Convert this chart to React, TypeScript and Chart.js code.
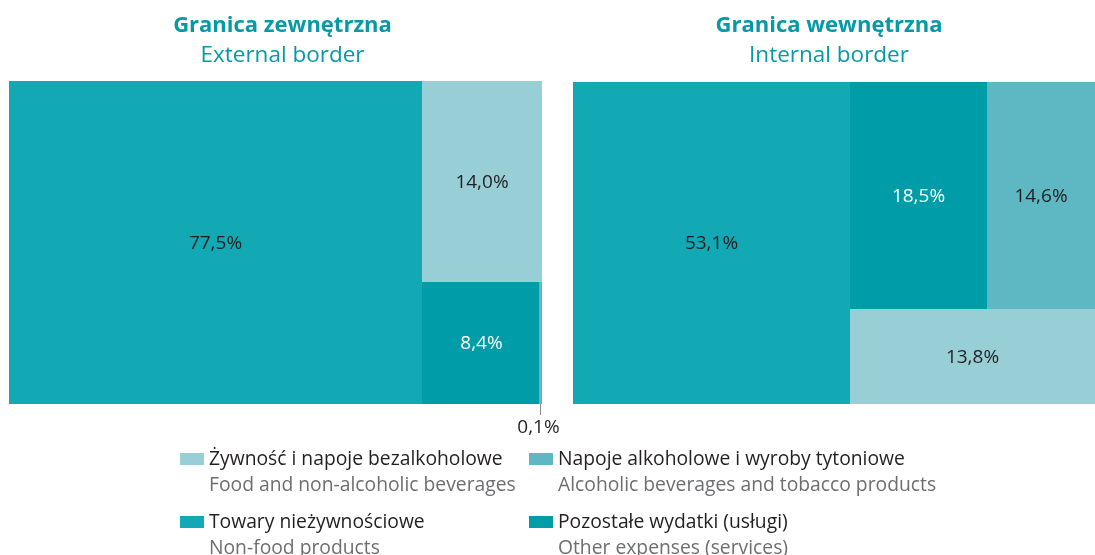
import React, { useEffect, useRef } from "react";
import { Chart, registerables } from "chart.js";

Chart.register(...registerables);

// ---------- data ----------
const CATEGORIES_PL = [
  "Żywność i napoje bezalkoholowe",
  "Napoje alkoholowe i wyroby tytoniowe",
  "Towary nieżywnościowe",
  "Pozostałe wydatki (usługi)",
];
const CATEGORIES_EN = [
  "Food and non-alcoholic beverages",
  "Alcoholic beverages and tobacco products",
  "Non-food products",
  "Other expenses (services)",
];
const COLORS = ["#98cfd7", "#5db8c3", "#12a8b4", "#009ca7"];
const LABEL_COLORS = ["#231f20", "#231f20", "#231f20", "#ffffff"];

// shares (%) by category, same order as CATEGORIES
const EXTERNAL_VALUES = [14.0, 0.1, 77.5, 8.4];
const INTERNAL_VALUES = [13.8, 14.6, 53.1, 18.5];

// treemap grouping (category indices); levels alternate side-by-side / stacked
const EXTERNAL_TREE = [2, [0, [3, 1]]];
const INTERNAL_TREE = [2, [[3, 1], 0]];

const TITLES_PL = ["Granica zewnętrzna", "Granica wewnętrzna"];
const TITLES_EN = ["External border", "Internal border"];

// ---------- layout helpers ----------
type Node = number | Node[];
type Cell = { cat: number; value: number; x0: number; x1: number; y0: number; y1: number };

function sumNode(n: Node, values: number[]): number {
  return typeof n === "number" ? values[n] : n.reduce((s, c) => s + sumNode(c, values), 0);
}

function layoutNode(
  n: Node,
  values: number[],
  x0: number,
  x1: number,
  y0: number,
  y1: number,
  horizontal: boolean,
  out: Cell[]
) {
  if (typeof n === "number") {
    out.push({ cat: n, value: values[n], x0, x1, y0, y1 });
    return;
  }
  const total = sumNode(n, values);
  let acc = 0;
  for (const c of n) {
    const v = sumNode(c, values);
    const a = acc / total;
    const b = (acc + v) / total;
    if (horizontal) layoutNode(c, values, x0 + (x1 - x0) * a, x0 + (x1 - x0) * b, y0, y1, false, out);
    else layoutNode(c, values, x0, x1, y0 + (y1 - y0) * a, y0 + (y1 - y0) * b, true, out);
    acc += v;
  }
}

const FONT = '"Open Sans", "Noto Sans", sans-serif';
const fmt = (v: number) => v.toFixed(1).replace(".", ",") + "%";

type Panel = {
  values: number[];
  tree: Node;
  title: string;
  subtitle: string;
  titleDx: number;
  padding: { left: number; right: number; top: number; bottom: number };
  legend: boolean;
};

const PANELS: Panel[] = [
  {
    values: EXTERNAL_VALUES,
    tree: EXTERNAL_TREE,
    title: TITLES_PL[0],
    subtitle: TITLES_EN[0],
    titleDx: 7,
    padding: { left: 9, right: 553, top: 81, bottom: 151 },
    legend: true,
  },
  {
    values: INTERNAL_VALUES,
    tree: INTERNAL_TREE,
    title: TITLES_PL[1],
    subtitle: TITLES_EN[1],
    titleDx: -5,
    padding: { left: 573, right: 0, top: 82, bottom: 151 },
    legend: false,
  },
];

function makePlugin(panel: Panel) {
  return {
    id: "treemapPanel",
    afterDraw(chart: any) {
      const ctx: CanvasRenderingContext2D = chart.ctx;
      const xs = chart.scales.x;
      const ys = chart.scales.y;
      const area = chart.chartArea;
      const cells: Cell[] = [];
      layoutNode(panel.tree, panel.values, 0, 1, 0, 1, true, cells);
      ctx.save();
      const px = cells.map((c) => {
        let L = Math.round(xs.getPixelForValue(c.x0));
        const R = Math.round(xs.getPixelForValue(c.x1));
        const T = Math.round(ys.getPixelForValue(c.y0));
        const B = Math.round(ys.getPixelForValue(c.y1));
        if (R - L < 3) L = R - 3;
        return { c, L, R, T, B };
      });
      for (const p of px) {
        ctx.fillStyle = COLORS[p.c.cat];
        ctx.fillRect(p.L, p.T, p.R - p.L, p.B - p.T);
      }
      ctx.textAlign = "center";
      ctx.textBaseline = "middle";
      ctx.font = `19px ${FONT}`;
      for (const p of px) {
        const cx = (p.L + p.R) / 2;
        const cy = (p.T + p.B) / 2;
        if (p.R - p.L > 40) {
          ctx.fillStyle = LABEL_COLORS[p.c.cat];
          ctx.fillText(fmt(p.c.value), cx, cy + 1);
        } else {
          ctx.strokeStyle = "#8c8c8c";
          ctx.lineWidth = 1;
          ctx.beginPath();
          ctx.moveTo(Math.floor(cx) + 0.5, p.B);
          ctx.lineTo(Math.floor(cx) + 0.5, p.B + 11);
          ctx.stroke();
          ctx.fillStyle = "#231f20";
          ctx.textBaseline = "alphabetic";
          ctx.fillText(fmt(p.c.value), cx - 2, p.B + 29);
          ctx.textBaseline = "middle";
        }
      }
      // titles
      const tx = (area.left + area.right) / 2 + panel.titleDx;
      ctx.textBaseline = "alphabetic";
      ctx.fillStyle = "#0799a5";
      ctx.font = `bold 22px ${FONT}`;
      ctx.fillText(panel.title, tx, 32);
      ctx.font = `22.5px ${FONT}`;
      ctx.fillText(panel.subtitle, tx, 62);

      // legend
      if (panel.legend) {
        const colX = [180, 529];
        const rowY = [453, 516];
        ctx.textAlign = "left";
        for (let i = 0; i < CATEGORIES_PL.length; i++) {
          const x = colX[i % 2];
          const y = rowY[Math.floor(i / 2)];
          ctx.fillStyle = COLORS[i];
          ctx.fillRect(x, y, 24, 12);
          ctx.font = `19.3px ${FONT}`;
          ctx.fillStyle = "#231f20";
          ctx.fillText(CATEGORIES_PL[i], x + 29, y + 12);
          ctx.fillStyle = "#6d6e71";
          ctx.fillText(CATEGORIES_EN[i], x + 29, y + 38);
        }
      }
      ctx.restore();
    },
  };
}

function PanelChart({ panel }: { panel: Panel }) {
  const ref = useRef<HTMLCanvasElement | null>(null);
  useEffect(() => {
    if (!ref.current) return;
    const chart = new Chart(ref.current, {
      type: "scatter",
      data: { datasets: [] },
      options: {
        animation: false,
        responsive: false,
        devicePixelRatio: 1,
        layout: { padding: panel.padding },
        scales: {
          x: { type: "linear", min: 0, max: 1, display: false },
          y: { type: "linear", min: 0, max: 1, reverse: true, display: false },
        },
        plugins: {
          legend: { display: false },
          tooltip: { enabled: false },
          title: { display: false },
        },
      },
      plugins: [makePlugin(panel)],
    } as any);
    return () => chart.destroy();
  }, [panel]);
  return (
    <canvas
      ref={ref}
      width={1095}
      height={555}
      style={{ position: "absolute", left: 0, top: 0, width: 1095, height: 555 }}
    />
  );
}

export default function App() {
  return (
    <div style={{ position: "absolute", left: 0, top: 0, width: 1095, height: 555, background: "#fff" }}>
      {PANELS.map((p, i) => (
        <PanelChart key={i} panel={p} />
      ))}
    </div>
  );
}
